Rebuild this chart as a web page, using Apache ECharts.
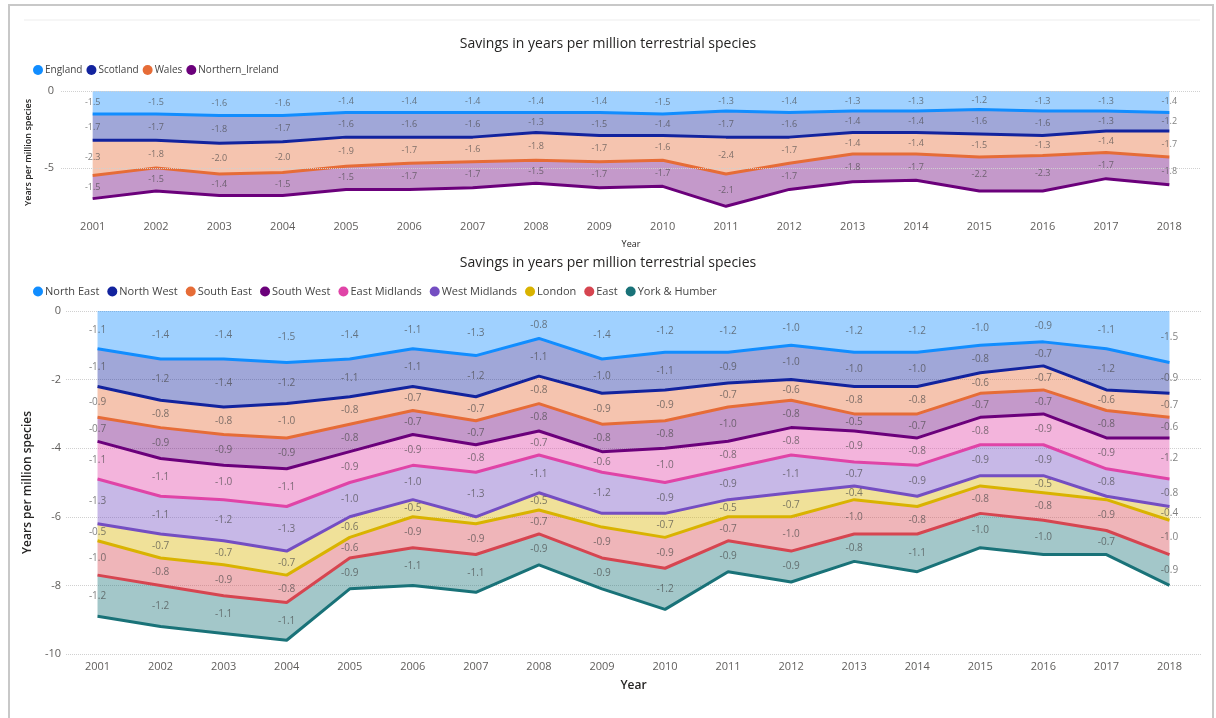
<!DOCTYPE html>
<html>
<head>
<meta charset="utf-8">
<script src="https://cdn.jsdelivr.net/npm/echarts@6/dist/echarts.min.js"></script>
<style>
  html, body { margin: 0; padding: 0; background: #ffffff; }
  #chart { width: 1216px; height: 718px; }
</style>
</head>
<body>
<div id="chart"></div>
<script>
// Years on the category axis
const years = ['2001','2002','2003','2004','2005','2006','2007','2008','2009',
               '2010','2011','2012','2013','2014','2015','2016','2017','2018'];

// Nations: savings in years per million terrestrial species
const england         = [-1.5,-1.5,-1.6,-1.6,-1.4,-1.4,-1.4,-1.4,-1.4,-1.5,-1.3,-1.4,-1.3,-1.3,-1.2,-1.3,-1.3,-1.4];
const scotland        = [-1.7,-1.7,-1.8,-1.7,-1.6,-1.6,-1.6,-1.3,-1.5,-1.4,-1.7,-1.6,-1.4,-1.4,-1.6,-1.6,-1.3,-1.2];
const wales           = [-2.3,-1.8,-2.0,-2.0,-1.9,-1.7,-1.6,-1.8,-1.7,-1.6,-2.4,-1.7,-1.4,-1.4,-1.5,-1.3,-1.4,-1.7];
const northernIreland = [-1.5,-1.5,-1.4,-1.5,-1.5,-1.7,-1.7,-1.5,-1.7,-1.7,-2.1,-1.7,-1.8,-1.7,-2.2,-2.3,-1.7,-1.8];

// English regions
const northEast    = [-1.1,-1.4,-1.4,-1.5,-1.4,-1.1,-1.3,-0.8,-1.4,-1.2,-1.2,-1.0,-1.2,-1.2,-1.0,-0.9,-1.1,-1.5];
const northWest    = [-1.1,-1.2,-1.4,-1.2,-1.1,-1.1,-1.2,-1.1,-1.0,-1.1,-0.9,-1.0,-1.0,-1.0,-0.8,-0.7,-1.2,-0.9];
const southEast    = [-0.9,-0.8,-0.8,-1.0,-0.8,-0.7,-0.7,-0.8,-0.9,-0.9,-0.7,-0.6,-0.8,-0.8,-0.6,-0.7,-0.6,-0.7];
const southWest    = [-0.7,-0.9,-0.9,-0.9,-0.8,-0.7,-0.7,-0.8,-0.8,-0.8,-1.0,-0.8,-0.5,-0.7,-0.7,-0.7,-0.8,-0.6];
const eastMidlands = [-1.1,-1.1,-1.0,-1.1,-0.9,-0.9,-0.8,-0.7,-0.6,-1.0,-0.8,-0.8,-0.9,-0.8,-0.8,-0.9,-0.9,-1.2];
const westMidlands = [-1.3,-1.1,-1.2,-1.3,-1.0,-1.0,-1.3,-1.1,-1.2,-0.9,-0.9,-1.1,-0.7,-0.9,-0.9,-0.9,-0.8,-0.8];
const london       = [-0.5,-0.7,-0.7,-0.7,-0.6,-0.5,-0.2,-0.5,-0.4,-0.7,-0.5,-0.7,-0.4,-0.3,-0.3,-0.5,-0.1,-0.4];
const east         = [-1.0,-0.8,-0.9,-0.8,-0.6,-0.9,-0.9,-0.7,-0.9,-0.9,-0.7,-1.0,-1.0,-0.8,-0.8,-0.8,-0.9,-1.0];
const yorkHumber   = [-1.2,-1.2,-1.1,-1.1,-0.9,-1.1,-1.1,-0.9,-0.9,-1.2,-0.9,-0.9,-0.8,-1.1,-1.0,-1.0,-0.7,-0.9];

// Data labels left out where the band is too thin for them
const hiddenLabels = { 'London': ['2007','2009','2014','2015','2017'] };

const nationSeries = [
  { name: 'England',          data: england,         color: '#118DFF' },
  { name: 'Scotland',         data: scotland,        color: '#12239E' },
  { name: 'Wales',            data: wales,           color: '#E66C37' },
  { name: 'Northern_Ireland', data: northernIreland, color: '#6B007B' }
];
const regionSeries = [
  { name: 'North East',    data: northEast,    color: '#118DFF' },
  { name: 'North West',    data: northWest,    color: '#12239E' },
  { name: 'South East',    data: southEast,    color: '#E66C37' },
  { name: 'South West',    data: southWest,    color: '#6B007B' },
  { name: 'East Midlands', data: eastMidlands, color: '#E044A7' },
  { name: 'West Midlands', data: westMidlands, color: '#744EC2' },
  { name: 'London',        data: london,       color: '#D9B300' },
  { name: 'East',          data: east,         color: '#D64550' },
  { name: 'York & Humber', data: yorkHumber,   color: '#197278' }
];

const FONT = '"Open Sans", "Noto Sans", sans-serif';
const TEXT_DARK = '#252423';
const TEXT_GREY = '#605E5C';

function areaSeries(list, axisIndex, stackName) {
  return list.map(s => ({
    name: s.name,
    type: 'line',
    stack: stackName,
    xAxisIndex: axisIndex,
    yAxisIndex: axisIndex,
    data: s.data,
    symbol: 'none',
    showSymbol: false,
    color: s.color,
    lineStyle: { width: 3, color: s.color },
    areaStyle: { color: s.color, opacity: 0.4 },
    emphasis: { disabled: true },
    z: 2
  }));
}

// Value labels sit in the middle of each stacked band
function bandLabels(list, axisIndex, fontSize) {
  const points = [];
  const running = years.map(() => 0);
  list.forEach(s => {
    const hidden = hiddenLabels[s.name] || [];
    s.data.forEach((v, i) => {
      const mid = running[i] + v / 2;
      running[i] += v;
      if (hidden.indexOf(years[i]) !== -1) return;
      points.push({ value: [years[i], mid], text: v.toFixed(1) });
    });
  });
  return {
    type: 'scatter',
    xAxisIndex: axisIndex,
    yAxisIndex: axisIndex,
    symbolSize: 0,
    silent: true,
    z: 5,
    data: points,
    label: {
      show: true,
      position: 'inside',
      formatter: p => p.data.text,
      color: 'rgba(70,70,70,0.85)',
      fontFamily: FONT,
      fontSize: fontSize
    }
  };
}

const chart = echarts.init(document.getElementById('chart'), null, { renderer: 'canvas' });

const topSeries = areaSeries(nationSeries, 0, 'nations');
// Gridlines of the upper chart at 0 and -5 only
topSeries[0].markLine = {
  silent: true,
  symbol: 'none',
  label: { show: false },
  lineStyle: { color: '#D0D0D0', type: 'dotted', width: 1 },
  data: [{ yAxis: 0 }, { yAxis: -5 }]
};

const option = {
  backgroundColor: '#ffffff',
  animation: false,
  textStyle: { fontFamily: FONT },
  graphic: [
    { type: 'rect', shape: { x: 9, y: 5, width: 1204, height: 740 },
      style: { fill: 'none', stroke: '#C8C8C8', lineWidth: 2 }, silent: true },
    { type: 'line', shape: { x1: 24, y1: 20, x2: 1200, y2: 20 },
      style: { stroke: '#EDEDED', lineWidth: 1 }, silent: true }
  ],
  title: [
    { text: 'Savings in years per million terrestrial species', left: 'center', top: 32,
      textStyle: { fontFamily: FONT, fontSize: 14, fontWeight: 'normal', color: TEXT_DARK } },
    { text: 'Savings in years per million terrestrial species', left: 'center', top: 251,
      textStyle: { fontFamily: FONT, fontSize: 14, fontWeight: 'normal', color: TEXT_DARK } }
  ],
  legend: [
    { data: nationSeries.map(s => s.name), left: 28, top: 60, icon: 'circle',
      itemWidth: 10, itemHeight: 10, itemGap: 4, selectedMode: false,
      textStyle: { fontFamily: FONT, fontSize: 10, color: '#444', padding: [0, 0, 0, -3] } },
    { data: regionSeries.map(s => s.name), left: 28, top: 281, icon: 'circle',
      itemWidth: 10, itemHeight: 10, itemGap: 8, selectedMode: false,
      textStyle: { fontFamily: FONT, fontSize: 11, color: '#444', padding: [0, 0, 0, -3] } }
  ],
  grid: [
    { left: 61, width: 1140, top: 91, height: 123 },
    { left: 66, width: 1135, top: 311, height: 343 }
  ],
  xAxis: [
    { type: 'category', gridIndex: 0, data: years, boundaryGap: true,
      name: 'Year', nameLocation: 'middle', nameGap: 26,
      nameTextStyle: { fontFamily: FONT, fontSize: 9, color: TEXT_DARK },
      axisLine: { show: false }, axisTick: { show: false },
      axisLabel: { fontFamily: FONT, fontSize: 11, color: TEXT_GREY, margin: 7 } },
    { type: 'category', gridIndex: 1, data: years, boundaryGap: true,
      name: 'Year', nameLocation: 'middle', nameGap: 26,
      nameTextStyle: { fontFamily: FONT, fontSize: 12, fontWeight: 600, color: TEXT_DARK },
      axisLine: { show: false }, axisTick: { show: false },
      axisLabel: { fontFamily: FONT, fontSize: 11, color: TEXT_GREY, margin: 7 } }
  ],
  yAxis: [
    { type: 'value', gridIndex: 0, min: -8, max: 0, interval: 1,
      name: 'Years per million species', nameLocation: 'middle', nameGap: 25, nameRotate: 90,
      nameTextStyle: { fontFamily: FONT, fontSize: 9, fontWeight: 600, color: TEXT_DARK },
      axisLine: { show: false }, axisTick: { show: false },
      splitLine: { show: false },
      axisLabel: { fontFamily: FONT, fontSize: 11, color: TEXT_GREY, margin: 7,
        formatter: v => (v === 0 || v === -5) ? String(v) : '' } },
    { type: 'value', gridIndex: 1, min: -10, max: 0, interval: 2,
      name: 'Years per million species', nameLocation: 'middle', nameGap: 29, nameRotate: 90,
      nameTextStyle: { fontFamily: FONT, fontSize: 12, fontWeight: 600, color: TEXT_DARK },
      axisLine: { show: false }, axisTick: { show: false },
      splitLine: { show: true, lineStyle: { color: '#D0D0D0', type: 'dotted', width: 1 } },
      axisLabel: { fontFamily: FONT, fontSize: 11, color: TEXT_GREY, margin: 5 } }
  ],
  series: [
    ...topSeries,
    bandLabels(nationSeries, 0, 9),
    ...areaSeries(regionSeries, 1, 'regions'),
    bandLabels(regionSeries, 1, 10)
  ]
};

chart.setOption(option);
</script>
</body>
</html>
